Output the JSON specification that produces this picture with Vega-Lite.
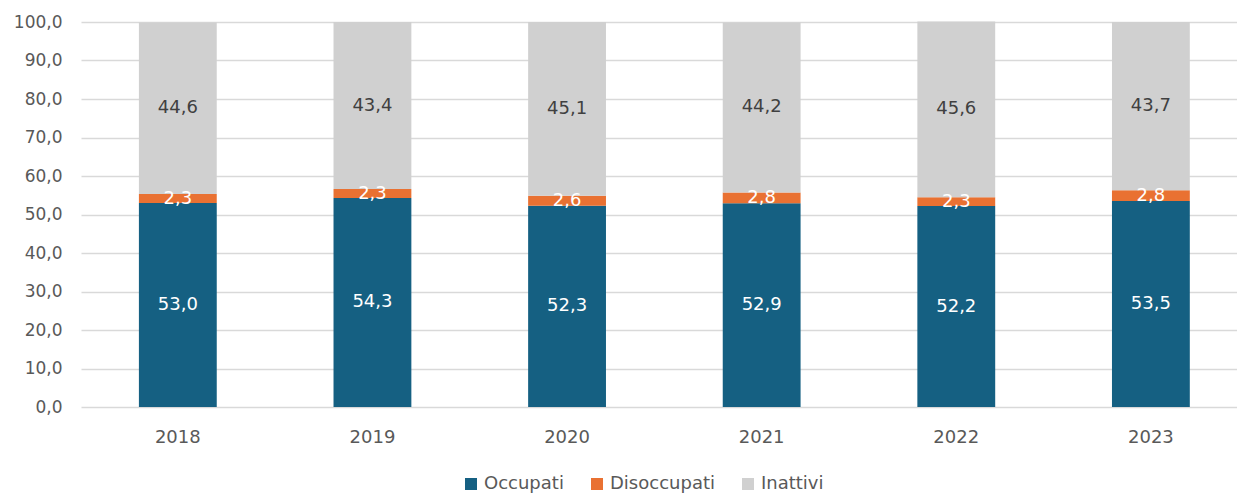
{
  "$schema": "https://vega.github.io/schema/vega-lite/v6.json",
  "width": 1156,
  "height": 385,
  "autosize": {"type": "none"},
  "padding": {"left": 81, "top": 22, "right": 0, "bottom": 86},
  "background": "white",
  "config": {
    "locale": {"number": {"decimal": ",", "thousands": ".", "grouping": [3], "currency": ["€", ""]}},
    "view": {"stroke": null},
    "font": "DejaVu Sans",
    "axisY": {
      "format": ".1f",
      "labelOverlap": false,
      "labelFontSize": 17,
      "labelColor": "#595959",
      "labelPadding": 19,
      "ticks": false,
      "domain": false,
      "gridColor": "#d9d9d9",
      "gridWidth": 1.5
    }
  },
  "data": {
    "values": [
      {"anno": "2018", "serie": "Occupati", "valore": 53.0},
      {"anno": "2018", "serie": "Disoccupati", "valore": 2.3},
      {"anno": "2018", "serie": "Inattivi", "valore": 44.6},
      {"anno": "2019", "serie": "Occupati", "valore": 54.3},
      {"anno": "2019", "serie": "Disoccupati", "valore": 2.3},
      {"anno": "2019", "serie": "Inattivi", "valore": 43.4},
      {"anno": "2020", "serie": "Occupati", "valore": 52.3},
      {"anno": "2020", "serie": "Disoccupati", "valore": 2.6},
      {"anno": "2020", "serie": "Inattivi", "valore": 45.1},
      {"anno": "2021", "serie": "Occupati", "valore": 52.9},
      {"anno": "2021", "serie": "Disoccupati", "valore": 2.8},
      {"anno": "2021", "serie": "Inattivi", "valore": 44.2},
      {"anno": "2022", "serie": "Occupati", "valore": 52.2},
      {"anno": "2022", "serie": "Disoccupati", "valore": 2.3},
      {"anno": "2022", "serie": "Inattivi", "valore": 45.6},
      {"anno": "2023", "serie": "Occupati", "valore": 53.5},
      {"anno": "2023", "serie": "Disoccupati", "valore": 2.8},
      {"anno": "2023", "serie": "Inattivi", "valore": 43.7}
    ]
  },
  "transform": [
    {"calculate": "indexof(['Occupati','Disoccupati','Inattivi'], datum.serie)", "as": "ordine"},
    {"stack": "valore", "groupby": ["anno"], "sort": [{"field": "ordine", "order": "ascending"}], "as": ["v0", "v1"]},
    {"calculate": "(datum.v0 + datum.v1) / 2", "as": "vmid"}
  ],
  "encoding": {
    "x": {
      "field": "anno",
      "type": "ordinal",
      "title": null,
      "scale": {"paddingInner": 0.6, "paddingOuter": 0.27, "align": 0.551},
      "axis": {
        "labelAngle": 0,
        "labelFontSize": 18,
        "labelColor": "#595959",
        "labelPadding": 21,
        "ticks": false,
        "domain": false,
        "grid": false
      }
    }
  },
  "layer": [
    {
      "mark": {"type": "bar"},
      "encoding": {
        "y": {
          "field": "v0",
          "type": "quantitative",
          "title": null,
          "scale": {"domain": [0, 100], "nice": false},
          "axis": {"values": [0, 10, 20, 30, 40, 50, 60, 70, 80, 90, 100], "tickCount": 11, "labelOverlap": false}
        },
        "y2": {"field": "v1"},
        "color": {
          "field": "serie",
          "type": "nominal",
          "title": null,
          "scale": {"domain": ["Occupati", "Disoccupati", "Inattivi"], "range": ["#156082", "#E97132", "#D0D0D0"]},
          "legend": {
            "orient": "none",
            "direction": "horizontal",
            "legendX": 381,
            "legendY": 453,
            "symbolType": "square",
            "symbolSize": 144,
            "symbolStrokeWidth": 0,
            "labelFontSize": 18,
            "labelColor": "#595959",
            "labelOffset": 4,
            "columnPadding": 24
          }
        }
      }
    },
    {
      "mark": {"type": "text", "fontSize": 18, "baseline": "middle", "align": "center"},
      "encoding": {
        "y": {
          "field": "vmid",
          "type": "quantitative",
          "title": null,
          "axis": {"values": [0, 10, 20, 30, 40, 50, 60, 70, 80, 90, 100], "tickCount": 11, "labelOverlap": false}
        },
        "text": {"field": "valore", "type": "quantitative", "format": ".1f"},
        "color": {
          "condition": {"test": "datum.serie === 'Inattivi'", "value": "#404040"},
          "value": "white"
        }
      }
    }
  ]
}
